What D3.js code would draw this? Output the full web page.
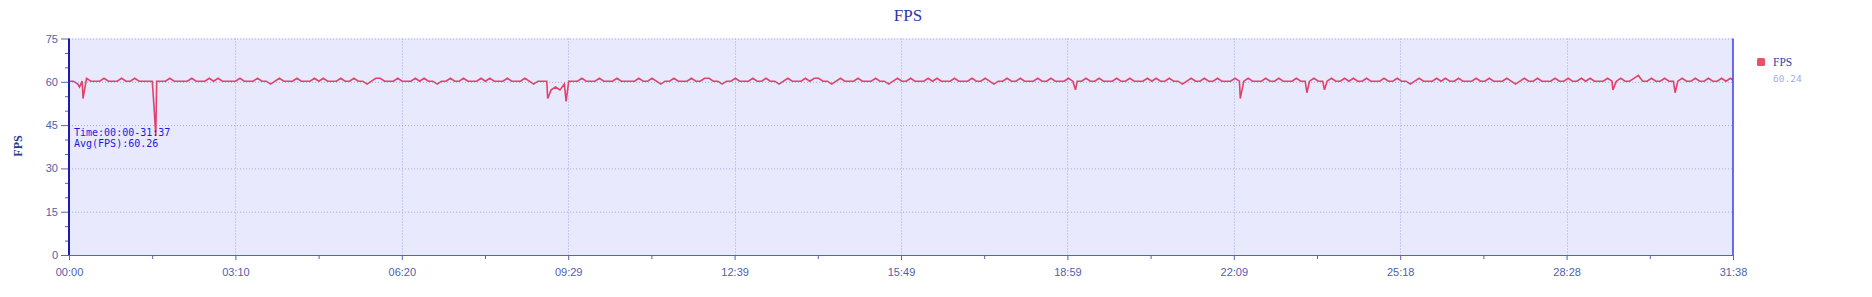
<!DOCTYPE html>
<html>
<head>
<meta charset="utf-8">
<script src="https://cdn.jsdelivr.net/npm/d3@7"></script>
<style>
  body { margin: 0; background: #fff; }
</style>
</head>
<body>
<script>
const stepSec = 5;
const totalSec = 1898;
const fps = [
  60,60,59,60,61,60,60,60,61,60,60,60,61,60,60,61,60,60,60,60,
  60,60,60,61,60,60,60,60,61,60,60,60,61,60,61,60,60,60,60,61,
  60,60,60,61,60,60,59,60,61,60,60,60,61,60,60,60,61,60,61,60,
  60,60,61,60,60,61,60,60,59,60,61,61,60,60,60,61,60,60,60,61,
  60,61,60,60,59,60,60,61,60,60,61,60,60,60,61,60,61,60,60,60,
  61,60,60,60,61,60,59,60,60,60,57,58,57,59,60,60,60,61,60,60,
  60,61,60,60,60,61,60,60,60,60,61,60,60,61,60,59,60,60,61,60,
  60,60,61,60,60,61,61,60,60,59,60,60,61,60,60,60,61,60,60,61,
  60,60,59,60,61,60,60,60,61,60,61,61,60,60,59,60,61,60,60,60,
  61,60,60,60,61,60,60,59,60,61,60,60,61,60,60,60,61,60,61,60,
  60,60,61,60,60,60,61,60,60,61,60,59,60,60,61,60,60,61,60,60,
  60,61,60,60,61,60,60,60,61,60,60,60,61,60,60,61,60,60,60,61,
  60,60,61,60,60,60,61,60,61,60,60,61,60,60,59,60,61,60,60,61,
  60,60,61,60,60,60,61,60,60,61,60,60,60,61,60,60,61,60,60,60,
  61,60,60,60,61,60,60,60,61,60,60,61,60,61,60,60,61,60,60,60,
  61,60,60,61,60,60,59,60,61,60,60,60,61,60,61,60,60,61,60,60,
  60,61,60,60,61,60,60,60,61,60,59,60,61,60,60,61,60,60,60,61,
  60,60,61,60,60,61,60,61,60,60,60,61,60,60,61,60,60,61,62,60,
  60,61,60,60,61,60,60,60,61,60,60,61,60,60,61,60,60,61,60,61,60
];
// short frame drops between the 5 s samples
const dropSec = [12, 16, 97, 99, 546, 567, 1148, 1336, 1412, 1432, 1761, 1832];
const dropFps = [58, 54, 51, 41, 54, 53, 57, 54, 56, 57, 57, 56];

const yMajor = [0, 15, 30, 45, 60, 75];
const yMinor = [5, 10, 20, 25, 35, 40, 50, 55, 65, 70];
const xDivisions = 10;
const notes = ["Time:00:00-31:37", "Avg(FPS):60.26"];
const legendName = "FPS";
const legendValue = "60.24";

const width = 1872, height = 297;
const margin = {top: 38.5, right: 139, bottom: 42, left: 69};
const plotW = width - margin.left - margin.right;
const plotH = height - margin.top - margin.bottom;

const points = fps.map((v, i) => ({t: i * stepSec, v}))
  .concat(dropSec.map((t, i) => ({t, v: dropFps[i]})))
  .sort((a, b) => a.t - b.t);

const svg = d3.select('body').append('svg')
  .attr('width', width)
  .attr('height', height);

// chart title
svg.append('text')
  .attr('x', 908).attr('y', 20.5)
  .attr('text-anchor', 'middle')
  .attr('font-family', '"Liberation Serif", serif')
  .attr('font-size', 17)
  .attr('fill', '#2b3aa6')
  .text('FPS');

const g = svg.append('g')
  .attr('transform', `translate(${margin.left},${margin.top})`);

const x = d3.scaleLinear().domain([0, totalSec]).range([0, plotW]);
const y = d3.scaleLinear().domain([0, 75]).range([plotH, 0]);

g.append('rect')
  .attr('width', plotW).attr('height', plotH)
  .attr('fill', '#e8e9fc');

const xMajor = d3.range(xDivisions + 1).map(i => totalSec * i / xDivisions);
const xMinor = d3.range(xDivisions).map(i => totalSec * (i + 0.5) / xDivisions);

// grid
g.append('g').selectAll('line').data(yMajor.filter(v => v > 0))
  .join('line')
  .attr('x1', 0).attr('x2', plotW)
  .attr('y1', d => y(d) + 0.5).attr('y2', d => y(d) + 0.5)
  .attr('stroke', '#a3abe6').attr('stroke-dasharray', '1,2');
g.append('g').selectAll('line').data(xMajor.slice(1, -1))
  .join('line')
  .attr('x1', d => Math.round(x(d)) + 0.5).attr('x2', d => Math.round(x(d)) + 0.5)
  .attr('y1', 0).attr('y2', plotH)
  .attr('stroke', '#a3abe6').attr('stroke-dasharray', '1,2');

// line
g.append('clipPath').attr('id', 'clip')
  .append('rect').attr('width', plotW).attr('height', plotH);

const line = d3.line()
  .x(d => x(d.t))
  .y(d => y(d.v) - 0.6);

g.append('path')
  .datum(points)
  .attr('clip-path', 'url(#clip)')
  .attr('fill', 'none')
  .attr('stroke', '#e0426a')
  .attr('stroke-width', 1.6)
  .attr('d', line);

// axes
const fmt = s => {
  const r = Math.round(s);
  return String(Math.floor(r / 60)).padStart(2, '0') + ':' + String(r % 60).padStart(2, '0');
};

const xAxis = g.append('g')
  .attr('transform', `translate(0,${plotH})`)
  .call(d3.axisBottom(x).tickValues(xMajor).tickSize(5).tickPadding(8).tickFormat(fmt));
g.append('g')
  .attr('transform', `translate(0,${plotH})`)
  .call(d3.axisBottom(x).tickValues(xMinor).tickSize(4).tickFormat(''))
  .select('.domain').remove();

const yAxis = g.append('g')
  .call(d3.axisLeft(y).tickValues(yMajor).tickSize(8).tickPadding(3));
g.append('g')
  .call(d3.axisLeft(y).tickValues(yMinor).tickSize(4).tickFormat(''))
  .select('.domain').remove();

g.selectAll('.tick line').attr('stroke', '#5566b4');
g.selectAll('.tick text')
  .attr('fill', '#4f60ae')
  .attr('font-family', '"Liberation Sans", sans-serif')
  .attr('font-size', 11);
xAxis.select('.domain').attr('stroke', '#5566b4');
yAxis.select('.domain').remove();

// left and right borders
g.append('line')
  .attr('x1', 0).attr('x2', 0).attr('y1', 0).attr('y2', plotH)
  .attr('stroke', '#1c1cb4').attr('stroke-width', 2);
g.append('line')
  .attr('x1', plotW).attr('x2', plotW).attr('y1', 0).attr('y2', plotH)
  .attr('stroke', '#3a3af0').attr('stroke-width', 1.5);

// y title
svg.append('text')
  .attr('transform', 'translate(22,146) rotate(-90)')
  .attr('text-anchor', 'middle')
  .attr('font-family', '"Liberation Serif", serif')
  .attr('font-weight', 'bold')
  .attr('font-size', 12)
  .attr('fill', '#2b3a8e')
  .text('FPS');

// annotation
g.append('g').selectAll('text').data(notes)
  .join('text')
  .attr('x', 5)
  .attr('y', (d, i) => 97 + i * 11.5)
  .attr('font-family', '"DejaVu Sans Mono", monospace')
  .attr('font-size', 10)
  .attr('fill', '#1a1ae0')
  .text(d => d);

// legend
const lg = svg.append('g').attr('transform', 'translate(1757,58)');
lg.append('rect')
  .attr('width', 8).attr('height', 8).attr('rx', 1.5)
  .attr('fill', '#ec5068');
lg.append('text')
  .attr('x', 16).attr('y', 8)
  .attr('font-family', '"Liberation Serif", serif')
  .attr('font-size', 11.5)
  .attr('fill', '#33449e')
  .text(legendName);
lg.append('text')
  .attr('x', 16).attr('y', 23.5)
  .attr('font-family', '"DejaVu Sans Mono", monospace')
  .attr('font-size', 9.5)
  .attr('fill', '#a2b0e4')
  .text(legendValue);
</script>
</body>
</html>
